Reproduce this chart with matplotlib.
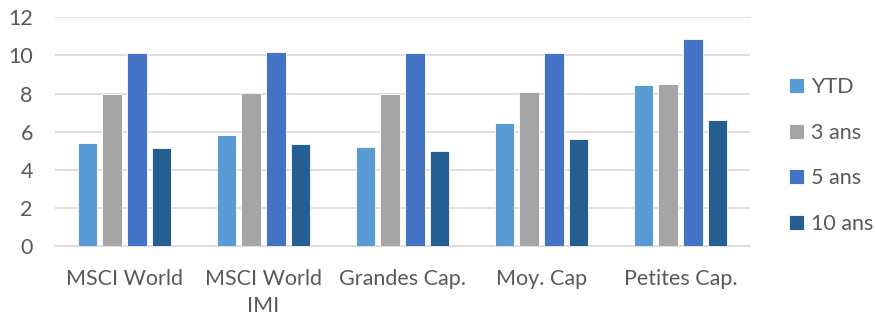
import matplotlib
matplotlib.use("Agg")
import matplotlib.pyplot as plt
import numpy as np

categories = ["MSCI World", "MSCI World\nIMI", "Grandes Cap.", "Moy. Cap", "Petites Cap."]
series_names = ["YTD", "3 ans", "5 ans", "10 ans"]
ytd = [5.4, 5.8, 5.2, 6.47, 8.43]
ans3 = [7.96, 8.03, 7.96, 8.1, 8.5]
ans5 = [10.11, 10.18, 10.11, 10.11, 10.84]
ans10 = [5.14, 5.34, 5.0, 5.6, 6.63]
yticks = [0, 2, 4, 6, 8, 10, 12]

colors = ["#5B9BD5", "#A5A5A5", "#4472C4", "#255E91"]
plt.rcParams['font.family'] = ['Lato', 'DejaVu Sans']
txt = "#595959"
fs = 15.5

fig = plt.figure(figsize=(8.75, 3.15), dpi=100)
ax = fig.add_axes([55/875, 1-246/315, 695/875, (246-17.3)/315])

x = np.arange(len(categories))
pitch = 0.178
width = 0.142
for i, (vals, name) in enumerate(zip([ytd, ans3, ans5, ans10], series_names)):
    ax.bar(x + (i - 1.5) * pitch, vals, width, color=colors[i], label=name,
           edgecolor="white", linewidth=0.6, zorder=3)

ax.set_xlim(-0.5, len(categories) - 0.5)
ax.set_ylim(0, 12)
ax.set_yticks(yticks)
ax.set_yticklabels([str(v) for v in yticks], fontsize=fs, color=txt)
ax.set_xticks(x)
ax.set_xticklabels(categories, fontsize=fs, color=txt, linespacing=1.45)
ax.tick_params(axis='x', length=0, pad=16.5)
ax.tick_params(axis='y', length=0, pad=16)
ax.yaxis.grid(True, color="#D9D9D9", linewidth=1.2, zorder=0)
for s in ["top", "right", "left"]:
    ax.spines[s].set_visible(False)
ax.spines["bottom"].set_color("#D9D9D9")
ax.spines["bottom"].set_linewidth(1.2)
ax.set_axisbelow(True)

leg = ax.legend(loc="center left", bbox_to_anchor=((789 - 55) / 695, (246 - 155.5) / 228.7),
                frameon=False, fontsize=fs, handlelength=0.7, handleheight=0.7,
                handletextpad=0.3, labelspacing=1.2, borderaxespad=0, borderpad=0)
for t in leg.get_texts():
    t.set_color(txt)

fig.savefig("out.png", dpi=100)
